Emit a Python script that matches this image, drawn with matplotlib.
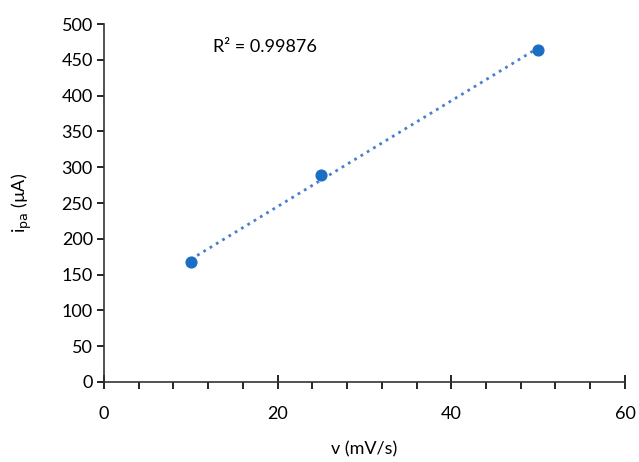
import numpy as np
import matplotlib
matplotlib.use('Agg')
import matplotlib.pyplot as plt
from matplotlib.ticker import MultipleLocator

plt.rcParams['font.family'] = ['Lato', 'DejaVu Sans']

# scan rate (mV/s) and anodic peak current (uA)
scan_rate = [10, 25, 50]
peak_current = [167, 289, 464]
r2_text = 'R² = 0.99876'

fig, ax = plt.subplots(figsize=(6.39, 4.62), dpi=100)
fig.subplots_adjust(left=0.1628, right=0.978, bottom=0.1732, top=0.948)

x = np.array(scan_rate)
y = np.array(peak_current)
slope, intercept = np.polyfit(x, y, 1)
xs = np.array([x.min(), x.max()])
ax.plot(xs, slope * xs + intercept, linestyle=':', color='#4a7fd0', linewidth=2, zorder=2)
ax.scatter(x, y, s=60, color='#1a6fc4', zorder=3)

ax.set_xlim(0, 60)
ax.set_ylim(0, 500)
ax.xaxis.set_major_locator(MultipleLocator(20))
ax.xaxis.set_minor_locator(MultipleLocator(4))
ax.yaxis.set_major_locator(MultipleLocator(50))
ax.tick_params(axis='y', labelsize=13, direction='out', length=5, width=1.2, pad=3)
ax.tick_params(axis='x', labelsize=13, direction='inout', length=10, width=1.2, pad=12)
ax.tick_params(axis='x', which='minor', direction='out', length=5, width=1.2)
for side in ['top', 'right']:
    ax.spines[side].set_visible(False)
for side in ['left', 'bottom']:
    ax.spines[side].set_linewidth(1.2)
    ax.spines[side].set_color('#333333')

ax.set_xlabel('v (mV/s)', fontsize=13, labelpad=14)
ax.set_ylabel(r'i$_{\mathrm{pa}}$ (µA)', fontsize=13, labelpad=20)
ax.text(0.209, 0.936, r2_text, transform=ax.transAxes, fontsize=13, va='center')

fig.savefig('out.png', dpi=100)
